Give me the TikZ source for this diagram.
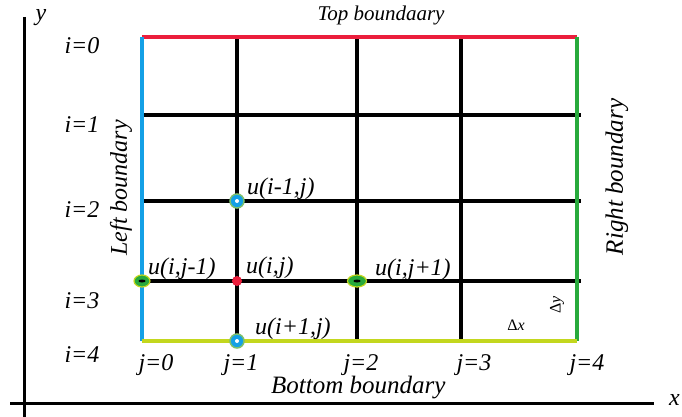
\documentclass[tikz,border=0pt]{standalone}
\usepackage{fontspec}
\setmainfont{Liberation Serif}
\usetikzlibrary{shapes.geometric}
\begin{document}
\begin{tikzpicture}[x=1pt,y=-1pt,
  lbl/.style={font=\fontsize{24}{28}\selectfont\itshape, inner sep=0pt},
  ttl/.style={font=\fontsize{21}{24}\selectfont\itshape, inner sep=0pt},
  small/.style={font=\fontsize{16}{18}\selectfont, inner sep=0pt},
  gridl/.style={line width=3.5pt, black},
  bnd/.style={line width=3.5pt},
  axis/.style={line width=3pt, black},
  bluept/.style={circle,draw=byel!60!bblue,fill=bblue,line width=1.5pt,minimum size=14pt,inner sep=0pt},
  greenpt/.style={ellipse,draw=byel,fill=bgreen,line width=1.2pt,minimum height=12pt,inner sep=0pt}]
\useasboundingbox (0,0) rectangle (682,417);
\definecolor{bred}{RGB}{235,30,60}
\definecolor{bblue}{RGB}{20,160,230}
\definecolor{bgreen}{RGB}{40,170,60}
\definecolor{byel}{RGB}{195,215,30}
% axes
\coordinate (ya) at (24,17);
\coordinate (yb) at (24,417);
\coordinate (xa) at (10,403);
\coordinate (xb) at (654,403);
\draw[axis] (ya) -- (yb);
\draw[axis] (xa) -- (xb);
\node[lbl] (ylab) at (41,18) {y};
\node[lbl,anchor=west] (xlab) at (669,400) {x};
% grid corners
\coordinate (tl) at (142,37);
\coordinate (tr) at (577,37);
\coordinate (bl) at (142,341);
\coordinate (br) at (577,341);
% interior lines
\foreach \x/\n in {237/1,357/2,461/3}{
  \coordinate (vt\n) at (\x,37);
  \coordinate (vb\n) at (\x,341);
  \draw[gridl] (vt\n) -- (vb\n);
}
\foreach \y/\n in {115/1,201/2,281/3}{
  \coordinate (hl\n) at (142,\y);
  \coordinate (hr\n) at (581,\y);
  \draw[gridl] (hl\n) -- (hr\n);
}
% boundaries
\draw[bnd,bred] (tl) -- (tr);
\draw[bnd,bblue] (tl) -- (bl);
\draw[bnd,bgreen] (tr) -- (br);
\draw[bnd,byel] (bl) -- (br);
% points
\node[bluept] (p1) at (237,201) {};
\fill[white] (p1) circle (2pt);
\node[bluept] (p5) at (237,341) {};
\fill[white] (p5) circle (2pt);
\node[circle,fill=bred,minimum size=10pt,inner sep=0pt] (p2) at (237,281) {};
\node[greenpt,minimum width=16pt] (p3) at (142,281) {};
\node[greenpt,minimum width=19pt] (p4) at (357,281) {};
\fill[black] (p3) ellipse (3.5pt and 1.5pt);
\fill[black] (p4) ellipse (3.5pt and 1.5pt);
% u labels
\node[lbl,anchor=base west] (u1) at (247,194) {u(i-1,j)};
\node[lbl,anchor=base west] (u2) at (246,273) {u(i,j)};
\node[lbl,anchor=base west] (u3) at (148,274) {u(i,j-1)};
\node[lbl,anchor=base west] (u4) at (375,275) {u(i,j+1)};
\node[lbl,anchor=base west] (u5) at (255,334) {u(i+1,j)};
% i labels
\node[lbl] (i0) at (82,46) {i=0};
\node[lbl] (i1) at (82,125) {i=1};
\node[lbl] (i2) at (82,210) {i=2};
\node[lbl] (i3) at (82,301) {i=3};
\node[lbl] (i4) at (82,355) {i=4};
% j labels
\node[lbl,anchor=base] (j0) at (156,370) {j=0};
\node[lbl,anchor=base] (j1) at (241,370) {j=1};
\node[lbl,anchor=base] (j2) at (361,370) {j=2};
\node[lbl,anchor=base] (j3) at (474,370) {j=3};
\node[lbl,anchor=base] (j4) at (587,370) {j=4};
% boundary labels
\node[ttl] (top) at (381,15) {Top boundaary};
\node[lbl,font=\fontsize{25}{28}\selectfont\itshape,anchor=base west] (bot) at (271,393) {Bottom boundary};
\node[lbl,rotate=90] (left) at (121,188) {Left boundary};
\node[lbl,rotate=90,font=\fontsize{25}{28}\selectfont\itshape] (right) at (617,177) {Right boundary};
% deltas
\node[small] (dx) at (516,325) {Δ\textit{x}};
\node[small,rotate=90] (dy) at (557,305) {Δ\textit{y}};
\end{tikzpicture}
\end{document}
